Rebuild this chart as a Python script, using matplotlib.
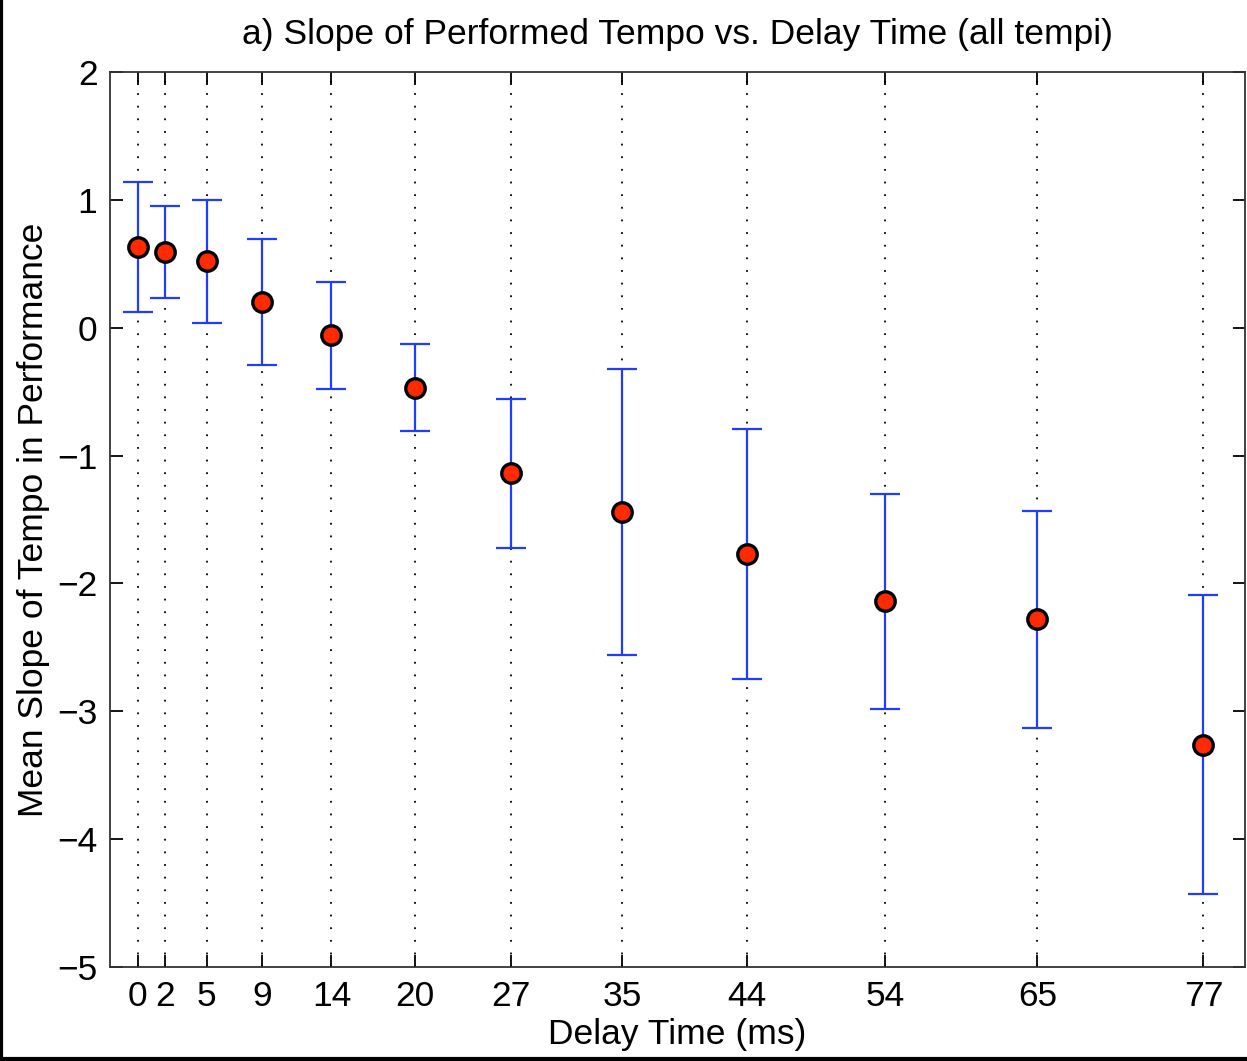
import numpy as np
import matplotlib.pyplot as plt
from matplotlib.lines import Line2D

# delay conditions (ms) and mean tempo slope with error bar half-widths
delay_ms = [0, 2, 5, 9, 14, 20, 27, 35, 44, 54, 65, 77]
mean_slope = [0.63, 0.59, 0.52, 0.20, -0.06, -0.47, -1.14, -1.44, -1.77, -2.14, -2.28, -3.26]
slope_err = [0.51, 0.36, 0.48, 0.49, 0.42, 0.34, 0.58, 1.12, 0.98, 0.84, 0.85, 1.17]
y_ticks = [-5, -4, -3, -2, -1, 0, 1, 2]

plt.rcParams["font.family"] = ["Liberation Sans", "DejaVu Sans"]
FS = 25.5

fig = plt.figure(figsize=(12.47, 10.61), dpi=100)
ax = fig.add_axes([110 / 1247, 94 / 1061, 1135 / 1247, 895 / 1061])

ax.errorbar(delay_ms, mean_slope, yerr=slope_err, fmt="none", ecolor="#1f3cff",
            elinewidth=1.6, capsize=11, capthick=1.6, zorder=3)
ax.plot(delay_ms, mean_slope, "o", markersize=14, markerfacecolor="#ff2a00",
        markeredgecolor="black", markeredgewidth=2.4, zorder=4)

ax.set_xlim(-2, 80)
ax.set_ylim(-5, 2)
ax.set_xticks(delay_ms)
ax.set_xticklabels([str(d) for d in delay_ms])
ax.set_yticks(y_ticks)
ax.set_yticklabels([str(v).replace("-", "\u2212") for v in y_ticks])
ax.xaxis.grid(True, linestyle=(0, (1, 6)), color="black", linewidth=1.3)
ax.tick_params(direction="in", length=9, width=1.3, labelsize=FS,
               top=True, right=True, pad=9)
for spine in ax.spines.values():
    spine.set_linewidth(1.3)
    spine.set_color("#333333")

ax.set_title("a) Slope of Performed Tempo vs. Delay Time (all tempi)",
             fontsize=FS, pad=20)
ax.set_xlabel("Delay Time (ms)", fontsize=FS, labelpad=4)
ax.set_ylabel("Mean Slope of Tempo in Performance", fontsize=FS, labelpad=5)

# black frame on the left and bottom edges of the figure
fig.add_artist(Line2D([0.001, 0.001], [0, 1], color="black", linewidth=3,
                      transform=fig.transFigure))
fig.add_artist(Line2D([0, 1], [0.0015, 0.0015], color="black", linewidth=3,
                      transform=fig.transFigure))

fig.savefig("out.png", dpi=100)
